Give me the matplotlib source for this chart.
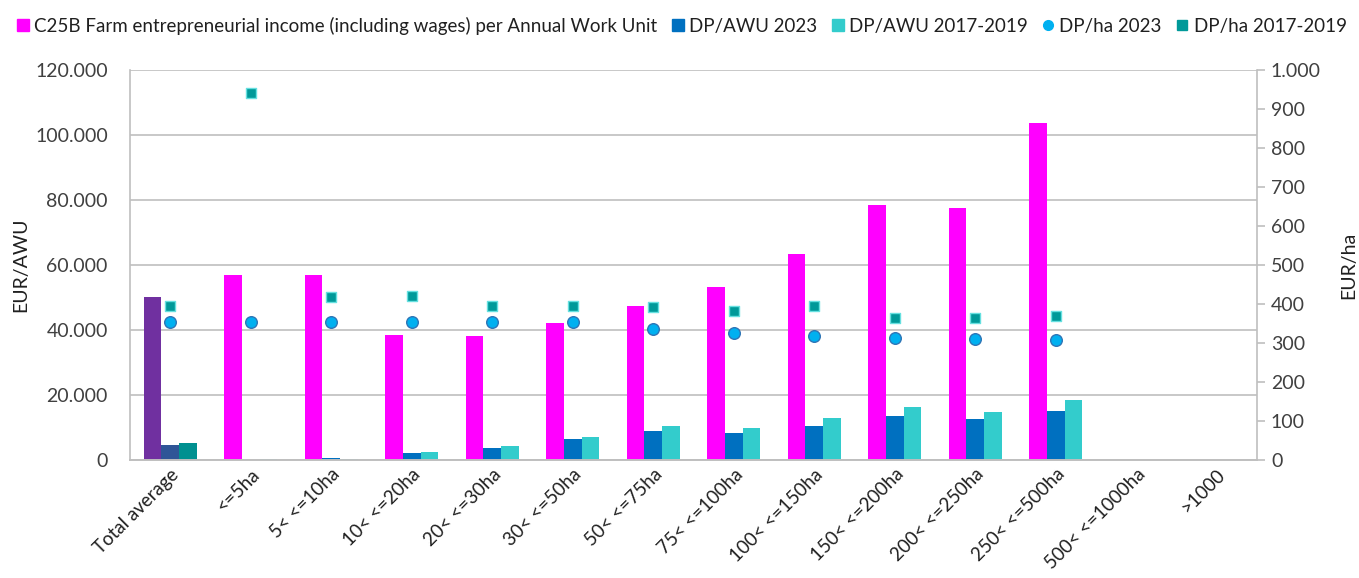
import numpy as np
import matplotlib
matplotlib.use("Agg")
import matplotlib.pyplot as plt
from matplotlib.lines import Line2D
from matplotlib.ticker import FuncFormatter, MultipleLocator

plt.rcParams["font.family"] = ["Lato", "DejaVu Sans"]

## size classes and series (NaN = no data for that class)
categories = [
    "Total average", "<=5ha", "5< <=10ha", "10< <=20ha", "20< <=30ha", "30< <=50ha",
    "50< <=75ha", "75< <=100ha", "100< <=150ha", "150< <=200ha", "200< <=250ha",
    "250< <=500ha", "500< <=1000ha", ">1000",
]
nan = np.nan
income_awu = [50200, 56800, 56800, 38500, 38200, 42300, 47300, 53300, 63400, 78500, 77500, 103700, nan, nan]
dp_awu_2023 = [4600, 0, 500, 2100, 3600, 6400, 8900, 8300, 10600, 13700, 12600, 15200, nan, nan]
dp_awu_1719 = [5200, 400, 400, 2400, 4200, 7000, 10600, 9900, 13000, 16200, 14900, 18400, nan, nan]
dp_ha_2023 = [355, 355, 355, 355, 355, 355, 336, 326, 318, 312, 310, 308, nan, nan]
dp_ha_1719 = [395, 940, 419, 421, 395, 395, 392, 381, 395, 365, 363, 370, nan, nan]

legend_labels = [
    "C25B Farm entrepreneurial income (including wages) per Annual Work Unit",
    "DP/AWU 2023", "DP/AWU 2017-2019", "DP/ha 2023", "DP/ha 2017-2019",
]

MAGENTA = "#FF00FF"
BLUE = "#0070C0"
CYAN = "#33CCCC"
DOT = "#00B0F0"
SQUARE = "#009999"
GRID = "#BFBFBF"
TEXT = "#404040"
FS = 14


def dotted_thousands(value, _pos):
    return f"{value:,.0f}".replace(",", ".")


fig = plt.figure(figsize=(13.59, 5.78), dpi=100)
ax = fig.add_axes([0.0957, 0.204, 0.8293, 0.675])
ax2 = ax.twinx()

x = np.arange(len(categories))
width = 0.22

colors_income = [MAGENTA] * len(categories)
colors_2023 = [BLUE] * len(categories)
colors_1719 = [CYAN] * len(categories)
## the overall average group is drawn in its own colours
colors_income[0] = "#7030A0"
colors_2023[0] = "#2F5597"
colors_1719[0] = "#009090"

ax.bar(x - width, income_awu, width, color=colors_income, zorder=2)
ax.bar(x, dp_awu_2023, width, color=colors_2023, zorder=2)
ax.bar(x + width, dp_awu_1719, width, color=colors_1719, zorder=2)

ax2.scatter(x, dp_ha_2023, s=70, marker="o", color=DOT, edgecolors="#2E75B6", linewidths=1.0, zorder=3)
ax2.scatter(x, dp_ha_1719, s=60, marker="s", color=SQUARE, edgecolors="#66E0E0", linewidths=1.0, zorder=3)

ax.set_xlim(-0.5, len(categories) - 0.5)
ax.set_ylim(0, 120000)
ax.yaxis.set_major_locator(MultipleLocator(20000))
ax.yaxis.set_major_formatter(FuncFormatter(dotted_thousands))
ax.grid(axis="y", color=GRID, linewidth=1.2, zorder=0)
ax.set_axisbelow(True)

ax2.set_ylim(0, 1000)
ax2.yaxis.set_major_locator(MultipleLocator(100))
ax2.yaxis.set_major_formatter(FuncFormatter(dotted_thousands))

for axis in (ax, ax2):
    axis.spines["top"].set_visible(False)
    for side in ("left", "right", "bottom"):
        axis.spines[side].set_color(GRID)
        axis.spines[side].set_linewidth(1.2)
ax2.spines["left"].set_visible(False)
ax.spines["right"].set_visible(False)

ax.tick_params(axis="y", length=0, labelsize=FS, labelcolor=TEXT, pad=16)
ax.tick_params(axis="x", length=0, labelsize=13.5, labelcolor="#202020", pad=4)
ax2.tick_params(axis="y", length=6, width=1.2, color=GRID, direction="out", labelsize=FS, labelcolor=TEXT, pad=4)

ax.set_xticks(x)
ax.set_xticklabels(categories, rotation=45, ha="right", rotation_mode="anchor")

ax.set_ylabel("EUR/AWU", fontsize=FS, color="#202020", labelpad=4)
ax2.set_ylabel("EUR/ha", fontsize=FS, color="#202020", labelpad=14)

handles = [
    Line2D([], [], linestyle="none", marker="s", markersize=8, color=MAGENTA),
    Line2D([], [], linestyle="none", marker="s", markersize=8, color=BLUE),
    Line2D([], [], linestyle="none", marker="s", markersize=8, color=CYAN),
    Line2D([], [], linestyle="none", marker="o", markersize=7, color=DOT),
    Line2D([], [], linestyle="none", marker="s", markersize=7, color=SQUARE),
]
fig.legend(
    handles, legend_labels, loc="upper left", bbox_to_anchor=(0.0, 1.0), ncol=5,
    frameon=False, fontsize=13.5, handlelength=0.6, handletextpad=0.3, columnspacing=0.8,
    labelcolor="#202020",
)

fig.savefig("out.png", dpi=100)
